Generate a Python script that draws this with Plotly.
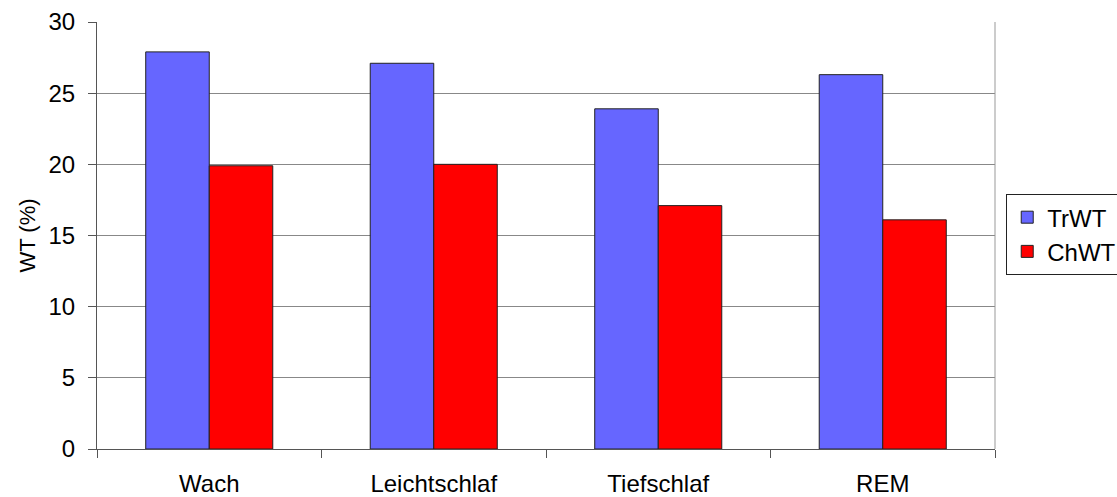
import plotly.graph_objects as go

categories = ["Wach", "Leichtschlaf", "Tiefschlaf", "REM"]
trwt = [27.9, 27.1, 23.9, 26.3]
chwt = [19.9, 20.0, 17.1, 16.1]

fig = go.Figure()
fig.add_trace(go.Bar(x=categories, y=trwt, name="TrWT",
                     marker=dict(color="#6666FF", line=dict(color="#222222", width=1))))
fig.add_trace(go.Bar(x=categories, y=chwt, name="ChWT",
                     marker=dict(color="#FF0000", line=dict(color="#222222", width=1))))

fig.update_layout(
    width=1117, height=497,
    margin=dict(l=97, r=122, t=22, b=48, autoexpand=False),
    paper_bgcolor="white", plot_bgcolor="white",
    barmode="group", bargap=0.434, bargroupgap=0,
    font=dict(family="Liberation Sans, Arial", size=24, color="black"),
    legend=dict(x=1.0125, y=0.597, xanchor="left", yanchor="top",
                bordercolor="#222222", borderwidth=1, font=dict(size=24),
                tracegroupgap=0),
    showlegend=True,
)
fig.update_yaxes(range=[0, 30], dtick=5, showgrid=True, gridcolor="#888888", gridwidth=1,
                 showline=True, linecolor="#555555", linewidth=1,
                 ticks="outside", ticklen=8, tickcolor="#555555",
                 tickfont=dict(size=24), ticklabelstandoff=8,
                 title=dict(text="WT (%)", font=dict(size=22), standoff=6),
                 zeroline=False, mirror=False)
fig.update_xaxes(showline=True, linecolor="#555555", linewidth=1,
                 ticks="outside", tickson="boundaries", ticklen=8, tickcolor="#555555",
                 showgrid=False, tickfont=dict(size=24), ticklabelstandoff=13)
# right border of plot area
fig.add_shape(type="line", xref="paper", yref="paper", x0=1, x1=1, y0=0, y1=1,
              line=dict(color="#999999", width=1))

fig.write_html("out.html")
